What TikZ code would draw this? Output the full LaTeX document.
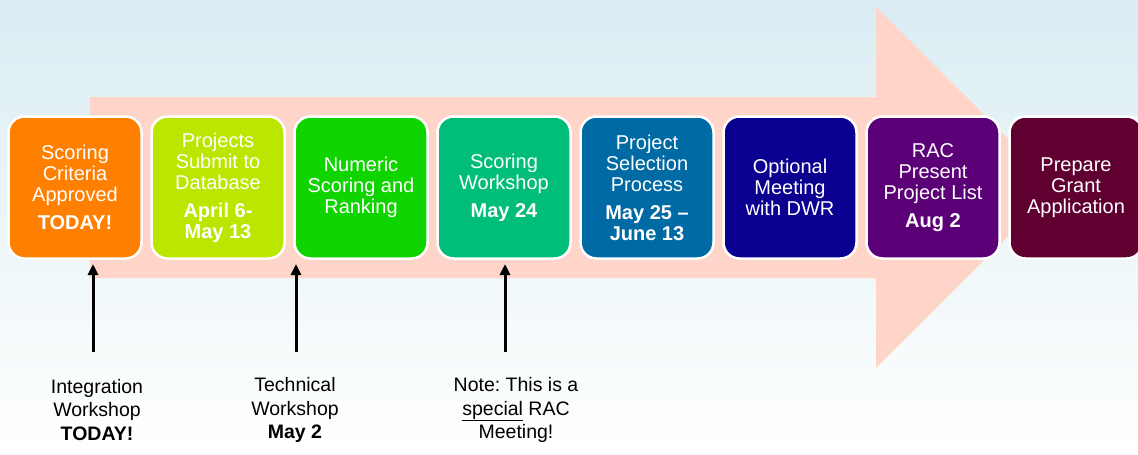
\documentclass[tikz,border=0pt]{standalone}
\usepackage{fontspec}
\setmainfont{Liberation Sans}
\usetikzlibrary{arrows.meta}
\frenchspacing
\definecolor{bgtop}{RGB}{218,237,243}
\definecolor{arrowpink}{RGB}{255,213,202}
\definecolor{cA}{RGB}{255,128,0}
\definecolor{cB}{RGB}{187,230,0}
\definecolor{cC}{RGB}{16,212,0}
\definecolor{cD}{RGB}{0,190,122}
\definecolor{cE}{RGB}{0,106,165}
\definecolor{cF}{RGB}{12,0,144}
\definecolor{cG}{RGB}{92,0,120}
\definecolor{cH}{RGB}{96,0,48}
\begin{document}
\begin{tikzpicture}[x=1pt,y=-1pt,
  stagebox/.style={draw=white, line width=2.5pt, rounded corners=16pt,
    minimum width=133pt, minimum height=142pt, text=white, align=center,
    inner sep=0pt, font=\fontsize{20}{21}\selectfont},
  note/.style={align=center, text=black, inner sep=0pt,
    font=\fontsize{19.5}{23.5}\selectfont},
  uparrow/.style={line width=3pt, -{Triangle[length=11pt,width=10pt]}}
]
\useasboundingbox (0,0) rectangle (1138,455);
\shade[top color=bgtop, bottom color=white] (0,0) rectangle (1138,455);
% big background arrow
\fill[arrowpink] (90,97) -- (876,97) -- (876,7) -- (1057,187.5) -- (876,368)
  -- (876,278) -- (90,278) -- cycle;
% stages
\node[stagebox, fill=cA] (s1) at (75,187.5) {Scoring\\Criteria\\Approved\\[7pt]\textbf{TODAY!}};
\node[stagebox, fill=cB] (s2) at (218,187.5) {Projects\\Submit to\\Database\\[7pt]\textbf{April 6-}\\\textbf{May 13}};
\node[stagebox, fill=cC] (s3) at (361,187.5) {Numeric\\Scoring and\\Ranking};
\node[stagebox, fill=cD] (s4) at (504,187.5) {Scoring\\Workshop\\[7pt]\textbf{May 24}};
\node[stagebox, fill=cE] (s5) at (647,187.5) {Project\\Selection\\Process\\[7pt]\textbf{May 25 –}\\\textbf{June 13}};
\node[stagebox, fill=cF] (s6) at (790,187.5) {Optional\\Meeting\\with DWR};
\node[stagebox, fill=cG] (s7) at (933,187.5) {RAC\\Present\\Project List\\[7pt]\textbf{Aug 2}};
\node[stagebox, fill=cH] (s8) at (1076,187.5) {Prepare\\Grant\\Application};
% notes
\node[note] (n1) at (97,410) {Integration\\Workshop\\\textbf{TODAY!}};
\node[note] (n2) at (295,410) {Technical\\Workshop\\\textbf{May 2}};
\node[note] (n3) at (516,410) {Note: This is a\\\underline{special} RAC\\Meeting!};
% arrows
\coordinate (a1b) at (93,352);
\coordinate (a1t) at (93,264);
\coordinate (a2b) at (296,352);
\coordinate (a2t) at (296,264);
\coordinate (a3b) at (505,352);
\coordinate (a3t) at (505,264);
\draw[uparrow] (a1b) -- (a1t);
\draw[uparrow] (a2b) -- (a2t);
\draw[uparrow] (a3b) -- (a3t);
\end{tikzpicture}
\end{document}
